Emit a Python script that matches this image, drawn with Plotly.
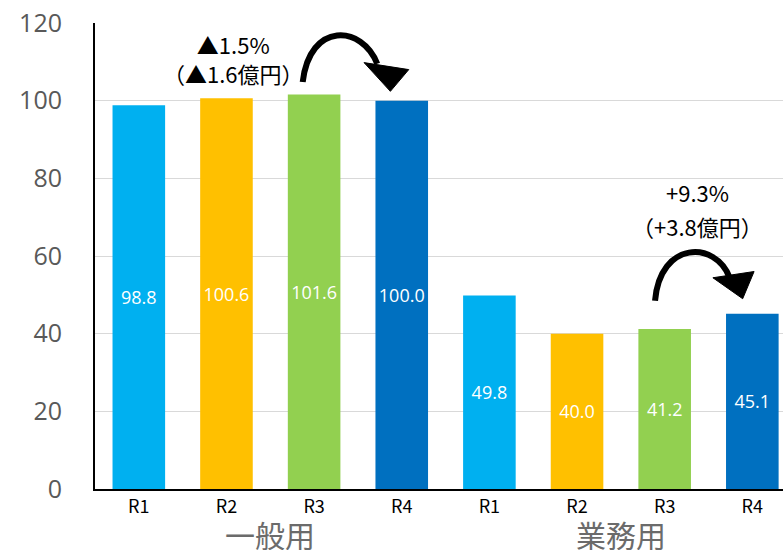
import plotly.graph_objects as go

# Values by year, general-use (一般用) then business-use (業務用)
years = ["R1", "R2", "R3", "R4"]
general = [98.8, 100.6, 101.6, 100.0]
business = [49.8, 40.0, 41.2, 45.1]
groups = ["一般用", "業務用"]
year_colors = ["#00B0F0", "#FFC000", "#92D050", "#0070C0"]

change_general = ["▲1.5%", "（▲1.6億円）"]
change_business = ["+9.3%", "（+3.8億円）"]

values = general + business
labels = years + years
colors = year_colors + year_colors
xpos = list(range(len(values)))

JP = "Noto Sans CJK JP"
NUM = "Open Sans"

fig = go.Figure()
fig.add_trace(go.Bar(
    x=xpos, y=values,
    marker=dict(color=colors, line=dict(width=0)),
    text=[f"{v:.1f}" for v in values],
    textposition="inside", insidetextanchor="middle",
    textfont=dict(color="white", size=18, family=NUM),
    width=0.6, showlegend=False, hoverinfo="skip",
))

annotations = []
# group captions under the year labels
for i, g in enumerate(groups):
    annotations.append(dict(
        x=i * 4 + 1.5, y=0, xref="x", yref="y", yshift=-45, yanchor="middle",
        text=g, showarrow=False, font=dict(size=30, color="#6b6b6b", family=JP),
    ))

# change annotations
annotations.append(dict(x=1.075, y=110.8, xref="x", yref="y",
                        text="<br>".join(change_general), showarrow=False,
                        font=dict(size=22, color="black", family=JP)))
for txt, (xa, ya) in zip(change_business, [(6.37, 76.5), (6.37, 67.7)]):
    annotations.append(dict(x=xa, y=ya, xref="x", yref="y", text=txt, showarrow=False,
                            font=dict(size=22, color="black", family=JP)))

shapes = [
    # curved arrow, general-use
    dict(type="path", xref="x", yref="y",
         path="M 1.87,104.8 C 1.95,120.5 2.55,119.5 2.72,109.5",
         line=dict(color="black", width=6)),
    dict(type="path", xref="x", yref="y",
         path="M 2.57,109.8 L 3.08,108.0 L 2.87,102.4 Z",
         fillcolor="black", line=dict(color="black", width=1)),
    # curved arrow, business-use
    dict(type="path", xref="x", yref="y",
         path="M 5.89,48.5 C 5.95,64.0 6.58,64.0 6.74,54.5",
         line=dict(color="black", width=6)),
    dict(type="path", xref="x", yref="y",
         path="M 6.55,54.4 L 7.02,56.0 L 6.89,49.0 Z",
         fillcolor="black", line=dict(color="black", width=1)),
]

fig.update_layout(
    width=783, height=550,
    margin=dict(l=95, r=0, t=23, b=61),
    plot_bgcolor="white", paper_bgcolor="white",
    bargap=0.4,
    annotations=annotations, shapes=shapes,
    font=dict(family=JP),
    xaxis=dict(
        range=[-0.5, 7.35], tickmode="array", tickvals=xpos, ticktext=labels,
        tickfont=dict(size=18, color="black", family=JP),
        showline=True, linecolor="black", linewidth=2, ticks="",
        showgrid=False, zeroline=False,
    ),
    yaxis=dict(
        range=[0, 120], tickmode="linear", dtick=20,
        tickfont=dict(size=25, color="#595959", family=NUM),
        showline=True, linecolor="black", linewidth=2, ticks="",
        ticklabelstandoff=26,
        showgrid=True, gridcolor="#d9d9d9", gridwidth=1, zeroline=False,
    ),
)

fig.write_html("out.html")
